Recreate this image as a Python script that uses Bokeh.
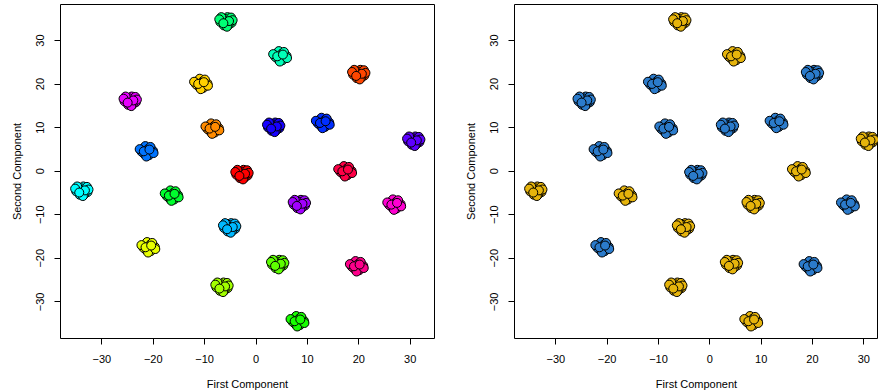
from bokeh.plotting import figure
from bokeh.models import ColumnDataSource, FixedTicker, Range1d
from bokeh.layouts import row
from bokeh.embed import file_html
from bokeh.resources import INLINE

# ---- data ----
cluster_x = [-5.85, 4.74, 20.0, -10.65, -24.48, -8.44, 3.44, 13.05, 30.7, -21.24, -2.73,
             17.4, -33.9, -16.36, 8.44, 26.95, -5.13, -20.9, 4.22, 19.67, -6.62, 8.12]
cluster_y = [34.37, 26.47, 22.27, 20.13, 16.14, 9.87, 10.17, 11.17, 6.97, 4.66, -0.69,
             0.07, -4.51, -5.51, -7.58, -7.58, -12.93, -17.38, -21.35, -21.74, -26.56, -34.36]
cluster_color = ["#00FF74", "#00FFB9", "#FF4600", "#FFD100", "#E800FF", "#FF8B00", "#1700FF",
                 "#002EFF", "#5D00FF", "#0074FF", "#FF0000", "#FF0046", "#00FFFF", "#00FF2E",
                 "#A200FF", "#FF00D1", "#00B9FF", "#E8FF00", "#5DFF00", "#FF008B", "#A2FF00",
                 "#17FF00"]
cluster_group = ["B", "B", "A", "A", "A", "A", "A", "A", "B", "A", "A",
                 "B", "B", "B", "B", "A", "B", "A", "B", "A", "B", "B"]
group_color = {"A": "#2B7BCB", "B": "#E6B40C"}

# within-cluster point offsets (two hand-read patterns)
pattern_a_dx = [0.0, 0.8, -0.8, 0.3, -0.4, 1.1, -1.1, 0.5, -0.2, 1.0, -0.9, 0.2, 1.3, -1.3, 0.6, -0.5]
pattern_a_dy = [0.0, 0.5, 0.3, 1.0, -0.9, -0.3, -0.1, -0.8, 0.6, 0.9, 1.0, -1.2, 0.3, 0.5, 0.1, -0.4]
pattern_b_dx = [0.1, -0.6, 0.9, -0.3, 0.4, -1.2, 1.2, -0.5, 0.3, -1.0, 0.7, -0.1, -1.4, 1.3, -0.6, 0.5]
pattern_b_dy = [0.1, 0.6, -0.4, 1.1, -1.0, 0.2, 0.0, -0.7, 0.5, -0.2, 0.9, -1.3, 0.4, -0.5, -0.1, 0.3]

x_ticks = [-30, -20, -10, 0, 10, 20, 30]
y_ticks = [-30, -20, -10, 0, 10, 20, 30]
x_title = "First Component"
y_title = "Second Component"

# ---- build point table ----
px, py, pc, pg = [], [], [], []
for i, (cx, cy) in enumerate(zip(cluster_x, cluster_y)):
    dxs, dys = (pattern_a_dx, pattern_a_dy) if i % 2 == 0 else (pattern_b_dx, pattern_b_dy)
    for dx, dy in zip(dxs, dys):
        px.append(cx + dx)
        py.append(cy + dy)
        pc.append(cluster_color[i])
        pg.append(group_color[cluster_group[i]])

src = ColumnDataSource(dict(x=px, y=py, c=pc, g=pg))

FONT = "Liberation Sans"


def style(p):
    p.outline_line_color = "black"
    p.outline_line_width = 1
    p.outline_line_alpha = 1
    p.xgrid.visible = False
    p.ygrid.visible = False
    p.background_fill_color = "white"
    p.border_fill_color = "white"
    p.xaxis.ticker = FixedTicker(ticks=x_ticks)
    p.yaxis.ticker = FixedTicker(ticks=y_ticks)
    p.xaxis.major_label_overrides = {t: str(t).replace("-", "\u2212") for t in x_ticks}
    p.yaxis.major_label_overrides = {t: str(t).replace("-", "\u2212") for t in y_ticks}
    for ax in (p.xaxis[0], p.yaxis[0]):
        ax.axis_line_color = None
        ax.major_tick_in = 0
        ax.major_tick_out = 6
        ax.major_tick_line_color = "black"
        ax.minor_tick_line_color = None
        ax.major_label_text_font = FONT
        ax.major_label_text_font_size = "11px"
        ax.major_label_text_color = "black"
        ax.axis_label_text_font = FONT
        ax.axis_label_text_font_size = "11px"
        ax.axis_label_text_font_style = "normal"
        ax.axis_label_text_color = "black"
    p.xaxis.axis_label = x_title
    p.yaxis.axis_label = y_title
    p.xaxis.major_label_standoff = 10
    p.xaxis.axis_label_standoff = 12
    p.yaxis.major_label_orientation = "vertical"
    p.yaxis.major_label_standoff = 10
    p.yaxis.axis_label_standoff = 11


p1 = figure(frame_width=374, frame_height=334, min_border_left=60, min_border_right=5,
            min_border_top=4, min_border_bottom=54,
            x_range=Range1d(-38.05, 34.74), y_range=Range1d(-38.42, 38.27),
            output_backend="svg", toolbar_location=None)
style(p1)
p1.scatter("x", "y", source=src, size=9, fill_color="c", line_color="black", line_width=1)

p2 = figure(frame_width=364, frame_height=334, min_border_left=75, min_border_right=0,
            min_border_top=4, min_border_bottom=54,
            x_range=Range1d(-38.05, 32.86), y_range=Range1d(-38.42, 38.27),
            output_backend="svg", toolbar_location=None)
style(p2)
p2.scatter("x", "y", source=src, size=9, fill_color="g", line_color="black", line_width=1)

layout = row(p1, p2, spacing=0)
open("out.html", "w").write(file_html(layout, INLINE))
